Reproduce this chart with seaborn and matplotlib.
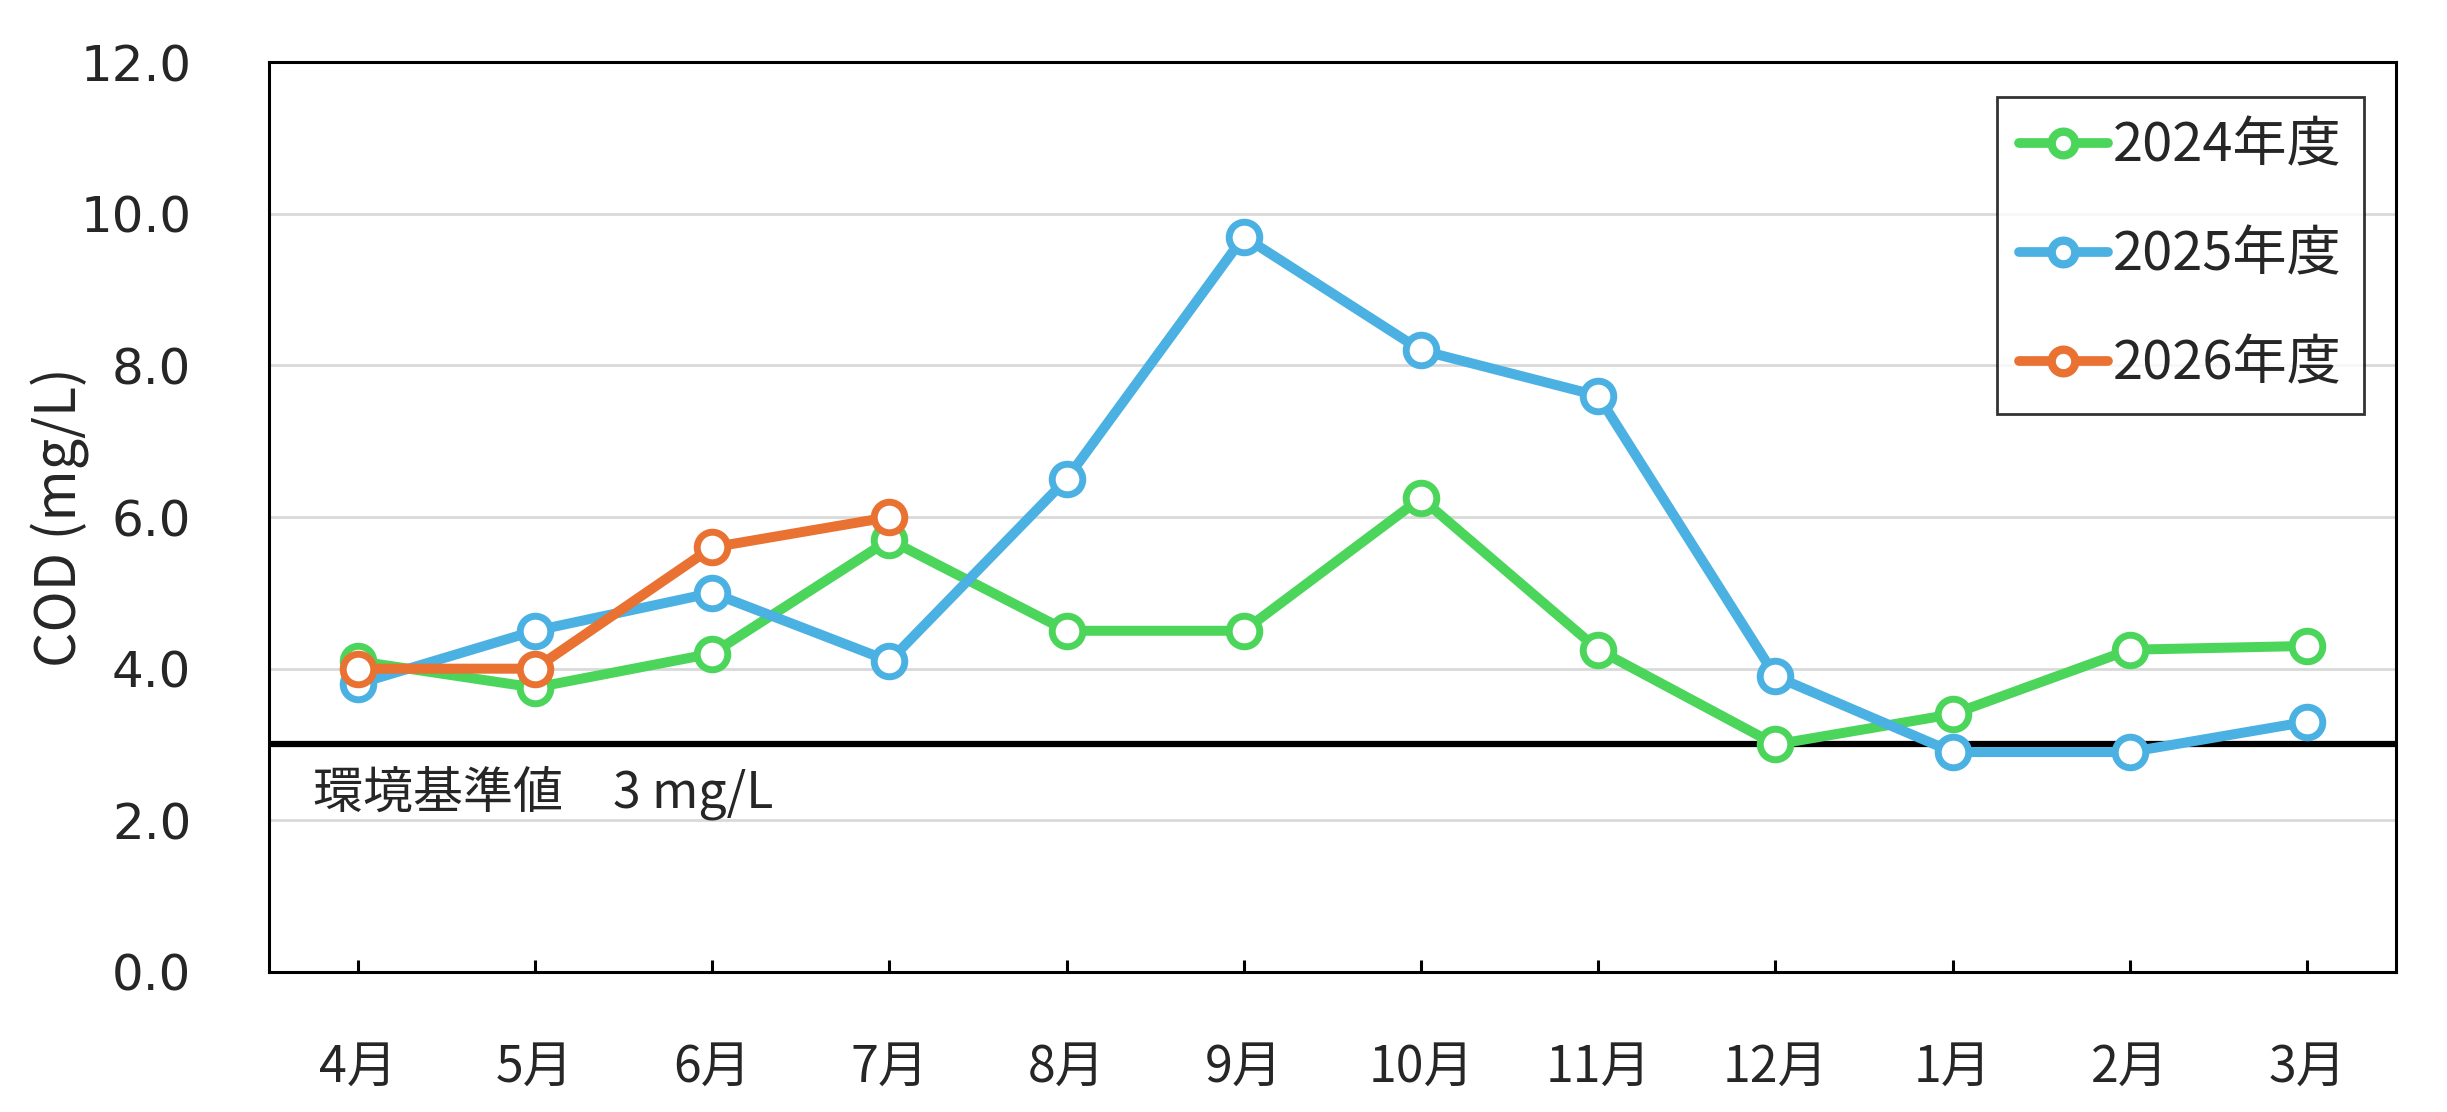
import pandas as pd
import numpy as np
import seaborn as sns
import matplotlib.pyplot as plt

# 月（年度順）
months = ['4月', '5月', '6月', '7月', '8月', '9月', '10月', '11月', '12月', '1月', '2月', '3月']
# COD 測定値 (mg/L)
cod_2024 = [4.1, 3.75, 4.2, 5.7, 4.5, 4.5, 6.25, 4.25, 3.0, 3.4, 4.25, 4.3]
cod_2025 = [3.8, 4.5, 5.0, 4.1, 6.5, 9.7, 8.2, 7.6, 3.9, 2.9, 2.9, 3.3]
cod_2026 = [4.0, 4.0, 5.6, 6.0]
years = ['2024年度', '2025年度', '2026年度']
colors = ['#4CD55B', '#4AB1E2', '#E97132']
std_value = 3.0
std_label = '環境基準値\u30003 mg/L'

# 縦持ちに変換
rows = []
for yr, vals in zip(years, [cod_2024, cod_2025, cod_2026]):
    for m, v in zip(months, vals):
        rows.append({'month': m, 'year': yr, 'cod': v})
df = pd.DataFrame(rows)
df['x'] = df['month'].map({m: i for i, m in enumerate(months)})

sns.set_style('white')
plt.rcParams['font.family'] = ['DejaVu Sans', 'Noto Sans CJK JP']
jp = ['Noto Sans CJK JP', 'DejaVu Sans']
vd = ['DejaVu Sans', 'Noto Sans CJK JP']

fig = plt.figure(figsize=(24.47, 11.12), dpi=100)
ax = fig.add_axes([0.110, 0.126, 0.869, 0.818])

# 基準値ライン
ax.axhline(std_value, color='black', lw=4.5, zorder=2)
ax.text(-0.25, 2.37, std_label, fontsize=36, family=jp, va='center', ha='left')

sns.lineplot(data=df, x='x', y='cod', hue='year', palette=colors, sort=False,
             marker='o', markersize=22, markerfacecolor='white', markeredgewidth=5,
             linewidth=7.2, ax=ax, zorder=3)
for ln, c in zip(ax.lines[1:], colors):
    ln.set_markeredgecolor(c)
ax.lines[-1].set_markersize(23)
ax.lines[-1].set_markeredgewidth(6.5)

ax.set_xlim(-0.5, 11.5)
ax.set_ylim(0, 12)
ax.set_xticks(range(len(months)))
ax.set_xticklabels(months, family=jp)
yt = np.arange(0, 12.1, 2.0)
ax.set_yticks(yt)
ax.set_yticklabels([f'{v:.1f}' for v in yt], family=vd)
ax.tick_params(axis='x', bottom=True, direction='in', length=9, width=2.2,
               color='black', pad=50, labelsize=36)
ax.tick_params(axis='y', length=0, pad=56, labelsize=36)
ax.set_xlabel('')
ax.set_ylabel('COD (mg/L)', fontsize=40, family=jp, labelpad=-7)

for s in ax.spines.values():
    s.set_color('black')
    s.set_linewidth(2.2)
for y in [2, 4, 6, 8, 10]:
    ax.axhline(y, color='#D9D9D9', lw=2, zorder=1)

handles, labels = ax.get_legend_handles_labels()
for h, c in zip(handles, colors):
    h.set_markeredgecolor(c)
    h.set_markerfacecolor('white')
    h.set_markersize(17)
    h.set_markeredgewidth(6)
    h.set_linewidth(7)
    h.set_solid_capstyle('round')
leg = ax.legend(handles, labels, loc='upper right', bbox_to_anchor=(0.985, 0.962),
                prop={'family': jp, 'size': 39}, frameon=True, fancybox=False,
                edgecolor='black', handlelength=1.65, handletextpad=0.1,
                labelspacing=1.0, borderpad=0.4, borderaxespad=0)
leg.get_frame().set_linewidth(2)

fig.savefig('out.png', dpi=100)
